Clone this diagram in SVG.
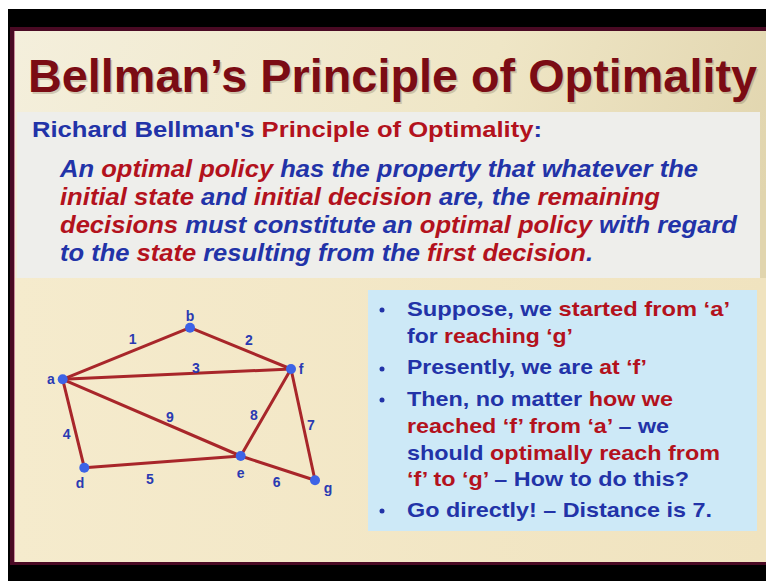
<svg xmlns="http://www.w3.org/2000/svg" width="766" height="581" viewBox="0 0 766 581">
<defs>
<linearGradient id="bg" x1="0" y1="0" x2="1" y2="0.3">
<stop offset="0" stop-color="#f4efdc"/>
<stop offset="0.6" stop-color="#efe6c6"/>
<stop offset="1" stop-color="#e1d5ae"/>
</linearGradient>
<linearGradient id="bgLow" x1="0" y1="0" x2="1" y2="0">
<stop offset="0" stop-color="#f5ebcd"/>
<stop offset="1" stop-color="#f0e3bf"/>
</linearGradient>
<style>
.title{font-family:"Liberation Sans",Arial,sans-serif;font-weight:bold;font-size:46px;fill:#7b0c14}
.shadow{fill:#6a5a40;opacity:0.25}
.sub{font-family:"Liberation Sans",Arial,sans-serif;font-weight:bold;font-size:22px}
.para{font-family:"Liberation Sans",Arial,sans-serif;font-weight:bold;font-style:italic;font-size:23px}
.bul{font-family:"Liberation Sans",Arial,sans-serif;font-weight:bold;font-size:21px}
.b{fill:#2233a8}
.r{fill:#b3121d}
.edge{stroke:#a8262a;stroke-width:3;fill:none;stroke-linecap:round}
.node circle{fill:#3d63e6}
.lbl{font-family:"Liberation Sans",Arial,sans-serif;font-weight:bold;font-size:14px;fill:#2a3ab2;text-anchor:middle}
.dot{fill:#2233a8}
</style>
</defs>
<rect x="0" y="0" width="766" height="581" fill="#ffffff"/>
<rect x="8" y="9" width="758" height="572" fill="#000000"/>
<rect x="10" y="27" width="756" height="538" fill="#4a0a24"/>
<rect x="14" y="31" width="752" height="531" fill="url(#bg)"/>
<rect x="14" y="278" width="752" height="284" fill="url(#bgLow)"/>
<line x1="14.5" y1="31" x2="14.5" y2="562" stroke="#c98a9a" stroke-width="1"/>

<!-- Title -->
<g id="title">
<text class="title shadow" x="29.5" y="93.5" textLength="729" lengthAdjust="spacingAndGlyphs">Bellman’s Principle of Optimality</text>
<text class="title" x="28" y="92" textLength="729" lengthAdjust="spacingAndGlyphs">Bellman’s Principle of Optimality</text>
</g>

<!-- Definition panel -->
<g id="definition">
<rect x="17" y="112" width="743" height="166" fill="#eeeeeb"/>
<text class="sub" x="32" y="137" textLength="510" lengthAdjust="spacingAndGlyphs"><tspan class="b">Richard Bellman's </tspan><tspan class="r">Principle of Optimality</tspan><tspan class="b">:</tspan></text>
<text class="para" x="60" y="177" textLength="638" lengthAdjust="spacingAndGlyphs"><tspan class="b">An </tspan><tspan class="r">optimal policy</tspan><tspan class="b"> has the property that whatever the</tspan></text>
<text class="para" x="60" y="205" textLength="600" lengthAdjust="spacingAndGlyphs"><tspan class="r">initial state</tspan><tspan class="b"> and </tspan><tspan class="r">initial decision</tspan><tspan class="b"> are, the </tspan><tspan class="r">remaining</tspan></text>
<text class="para" x="60" y="233" textLength="677" lengthAdjust="spacingAndGlyphs"><tspan class="r">decisions</tspan><tspan class="b"> must constitute an </tspan><tspan class="r">optimal policy</tspan><tspan class="b"> with regard</tspan></text>
<text class="para" x="60" y="261" textLength="533" lengthAdjust="spacingAndGlyphs"><tspan class="b">to the </tspan><tspan class="r">state</tspan><tspan class="b"> resulting from the </tspan><tspan class="r">first decision</tspan><tspan class="b">.</tspan></text>
</g>

<!-- Connectors -->
<g id="connectors">
<line class="edge" x1="62.7" y1="379.3" x2="190" y2="327.7"/>
<line class="edge" x1="190" y1="327.7" x2="291" y2="369"/>
<line class="edge" x1="62.7" y1="379.3" x2="291" y2="369"/>
<line class="edge" x1="62.7" y1="379.3" x2="240.7" y2="456"/>
<line class="edge" x1="62.7" y1="379.3" x2="84.3" y2="467.7"/>
<line class="edge" x1="84.3" y1="467.7" x2="240.7" y2="456"/>
<line class="edge" x1="240.7" y1="456" x2="291" y2="369"/>
<line class="edge" x1="240.7" y1="456" x2="315" y2="480.3"/>
<line class="edge" x1="291" y1="369" x2="315" y2="480.3"/>
<text class="lbl" x="132.7" y="344">1</text>
<text class="lbl" x="249" y="345">2</text>
<text class="lbl" x="196" y="373">3</text>
<text class="lbl" x="66.7" y="439">4</text>
<text class="lbl" x="150" y="484">5</text>
<text class="lbl" x="276.7" y="487">6</text>
<text class="lbl" x="311" y="430">7</text>
<text class="lbl" x="254" y="420">8</text>
<text class="lbl" x="170" y="422">9</text>
</g>

<!-- Nodes -->
<g id="node-a" class="node"><circle cx="62.7" cy="379.3" r="5"/><text class="lbl" x="51" y="384">a</text></g>
<g id="node-b" class="node"><circle cx="190" cy="327.7" r="5"/><text class="lbl" x="190" y="321">b</text></g>
<g id="node-f" class="node"><circle cx="291" cy="369" r="5"/><text class="lbl" x="301" y="374">f</text></g>
<g id="node-d" class="node"><circle cx="84.3" cy="467.7" r="5"/><text class="lbl" x="80" y="488">d</text></g>
<g id="node-e" class="node"><circle cx="240.7" cy="456" r="5"/><text class="lbl" x="240.7" y="478">e</text></g>
<g id="node-g" class="node"><circle cx="315" cy="480.3" r="5"/><text class="lbl" x="328" y="493">g</text></g>

<!-- Explanation panel -->
<g id="explanation">
<rect x="368" y="290" width="389" height="241" fill="#cde9f7"/>
<circle class="dot" cx="382" cy="310" r="2.5"/>
<circle class="dot" cx="382" cy="369" r="2.5"/>
<circle class="dot" cx="382" cy="400" r="2.5"/>
<circle class="dot" cx="382" cy="511" r="2.5"/>
<text class="bul" x="407" y="316" textLength="323" lengthAdjust="spacingAndGlyphs"><tspan class="b">Suppose, we </tspan><tspan class="r">started from ‘a’</tspan></text>
<text class="bul" x="407" y="343" textLength="166" lengthAdjust="spacingAndGlyphs"><tspan class="b">for </tspan><tspan class="r">reaching ‘g’</tspan></text>
<text class="bul" x="407" y="374" textLength="240" lengthAdjust="spacingAndGlyphs"><tspan class="b">Presently, we are </tspan><tspan class="r">at ‘f’</tspan></text>
<text class="bul" x="407" y="406" textLength="266" lengthAdjust="spacingAndGlyphs"><tspan class="b">Then, no matter </tspan><tspan class="r">how we</tspan></text>
<text class="bul" x="407" y="433" textLength="262" lengthAdjust="spacingAndGlyphs"><tspan class="r">reached ‘f’ from ‘a’</tspan><tspan class="b"> – we</tspan></text>
<text class="bul" x="407" y="460" textLength="313" lengthAdjust="spacingAndGlyphs"><tspan class="b">should </tspan><tspan class="r">optimally reach from</tspan></text>
<text class="bul" x="407" y="486" textLength="282" lengthAdjust="spacingAndGlyphs"><tspan class="r">‘f’ to ‘g’</tspan><tspan class="b"> – How to do this?</tspan></text>
<text class="bul b" x="407" y="517" textLength="305" lengthAdjust="spacingAndGlyphs">Go directly! – Distance is 7.</text>
</g>
</svg>
